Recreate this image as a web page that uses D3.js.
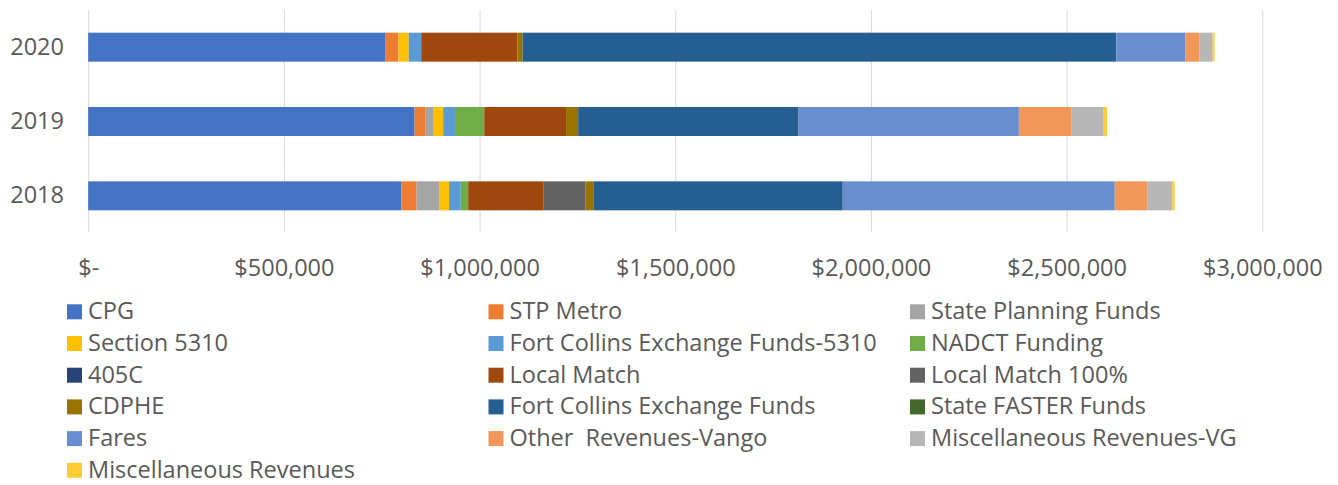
<!DOCTYPE html>
<html>
<head>
<meta charset="utf-8">
<script src="https://cdn.jsdelivr.net/npm/d3@7"></script>
<style>
  html, body { margin: 0; padding: 0; background: #fff; }
  svg text { font-family: "Open Sans", "Noto Sans", sans-serif; fill: #595959; }
</style>
</head>
<body>
<svg id="chart" width="1338" height="485"></svg>
<script>
// funding sources, in stack order
const series = [
  "CPG", "STP Metro", "State Planning Funds",
  "Section 5310", "Fort Collins Exchange Funds-5310", "NADCT Funding",
  "405C", "Local Match", "Local Match 100%",
  "CDPHE", "Fort Collins Exchange Funds", "State FASTER Funds",
  "Fares", "Other  Revenues-Vango", "Miscellaneous Revenues-VG",
  "Miscellaneous Revenues"
];
const colors = [
  "#4472C4", "#ED7D31", "#A5A5A5",
  "#FFC000", "#5B9BD5", "#70AD47",
  "#264478", "#9E480E", "#636363",
  "#997300", "#255E91", "#43682B",
  "#698ED0", "#F1975A", "#B7B7B7",
  "#FFCD33"
];
const years = ["2020", "2019", "2018"];
// dollars per source, same order as series
const values2020 = [760000, 33000, 0, 26000, 32000, 0, 0, 246000, 0, 13000, 1517000, 0, 176000, 36000, 34000, 5000];
const values2019 = [834000, 27000, 22000, 24000, 30000, 75000, 0, 209000, 0, 31000, 563000, 0, 563000, 135000, 80000, 10000];
const values2018 = [800000, 39000, 59000, 24000, 30000, 19000, 0, 193000, 106000, 22000, 636000, 0, 695000, 83000, 64000, 6000];
const tickValues = [0, 500000, 1000000, 1500000, 2000000, 2500000, 3000000];

let svg = d3.select("#chart");

let rows = [values2020, values2019, values2018].map((vals, i) => {
  let row = {year: years[i]};
  series.forEach((s, j) => row[s] = vals[j]);
  return row;
});

let x = d3.scaleLinear().domain([0, 3000000]).range([88.2, 1262.3]);
let y = d3.scaleBand().domain(years).range([10, 233]).paddingInner(0.61).paddingOuter(0.305);
let color = d3.scaleOrdinal().domain(series).range(colors);

// gridlines + tick labels
let xAxis = d3.axisBottom(x)
  .tickValues(tickValues)
  .tickSizeInner(-222)
  .tickSizeOuter(0)
  .tickFormat(d => d === 0 ? "$-" : "$" + d3.format(",")(d));

let gx = svg.append("g").attr("transform", "translate(0,232)").call(xAxis);
gx.select(".domain").remove();
gx.selectAll(".tick line").attr("stroke", "#d9d9d9").attr("stroke-width", 1);
gx.selectAll(".tick text")
  .attr("y", 44).attr("dy", 0)
  .style("font-size", "23.5px");

// stacked bars
let stacked = d3.stack().keys(series)(rows);
svg.append("g").selectAll("g")
  .data(stacked)
  .join("g")
  .attr("fill", d => color(d.key))
  .selectAll("rect")
  .data(d => d)
  .join("rect")
  .attr("x", d => x(d[0]))
  .attr("y", d => y(d.data.year))
  .attr("width", d => x(d[1]) - x(d[0]))
  .attr("height", y.bandwidth());

// year labels
let yAxis = d3.axisLeft(y).tickSize(0).tickPadding(0);
let gy = svg.append("g").attr("transform", "translate(64,0)").call(yAxis);
gy.select(".domain").remove();
gy.selectAll(".tick text")
  .style("font-size", "23.5px")
  .attr("text-anchor", "end");

// legend, 3 columns row by row
let legend = svg.append("g").selectAll("g")
  .data(series)
  .join("g")
  .attr("transform", (d, i) => `translate(${67 + (i % 3) * 421.5},${319.3 + Math.floor(i / 3) * 31.7})`);
legend.append("rect")
  .attr("x", 0).attr("y", -15)
  .attr("width", 15).attr("height", 15)
  .attr("fill", d => color(d));
legend.append("text")
  .attr("x", 21).attr("y", 0)
  .style("font-size", "23.5px")
  .style("white-space", "pre")
  .text(d => d);
</script>
</body>
</html>
